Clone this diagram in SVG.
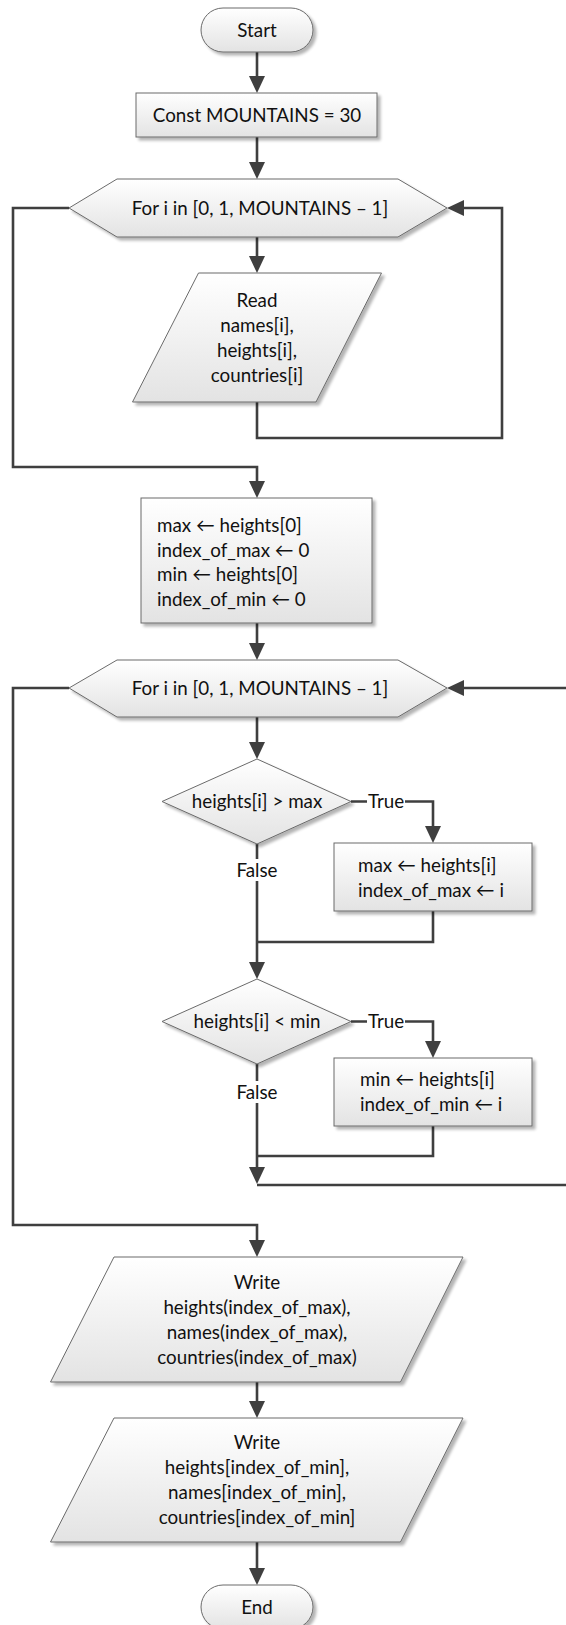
<svg xmlns="http://www.w3.org/2000/svg" width="566" height="1625" viewBox="0 0 566 1625">
<style>
.shape{fill:url(#g);stroke:#6a6a6a;stroke-width:1;filter:url(#sh)}
.t{font-family:Lato,"Liberation Sans",sans-serif;font-size:18.8px;fill:#111111;text-anchor:middle}
.l{text-anchor:start}
.c{fill:none;stroke:#3f3f3f;stroke-width:2.6}
.a{marker-end:url(#arr)}
.bg{fill:#ffffff}
</style>
<defs>
<linearGradient id="g" x1="0" y1="0" x2="0" y2="1">
<stop offset="0" stop-color="#ffffff"/>
<stop offset="1" stop-color="#e3e3e3"/>
</linearGradient>
<filter id="sh" x="-10%" y="-10%" width="130%" height="130%">
<feGaussianBlur in="SourceAlpha" stdDeviation="1.5"/>
<feOffset dx="2.5" dy="2.5" result="b"/>
<feComponentTransfer><feFuncA type="linear" slope="0.3"/></feComponentTransfer>
<feMerge><feMergeNode/><feMergeNode in="SourceGraphic"/></feMerge>
</filter>
<marker id="arr" viewBox="0 0 17 16" refX="9" refY="8" markerWidth="17" markerHeight="16" orient="auto" markerUnits="userSpaceOnUse">
<path d="M0,0 L17,8 L0,16 z" fill="#3f3f3f"/>
</marker>
</defs>

<g id="connectors">
<path class="c a" d="M257,52 V85"/>
<path class="c a" d="M257,137 V171"/>
<path class="c a" d="M257,237 V265"/>
<path class="c a" d="M69,208 H13 V467 H257 V490"/>
<path class="c a" d="M257,402 V438 H502 V208 H455"/>
<path class="c a" d="M257,623 V652"/>
<path class="c a" d="M69,688 H13 V1225 H257 V1249"/>
<path class="c a" d="M257,717 V751"/>
<path class="c a" d="M351,801.5 H433 V835"/>
<path class="c" d="M433,911 V942 H257"/>
<path class="c a" d="M257,844 V971"/>
<path class="c a" d="M351,1021.5 H433 V1050"/>
<path class="c" d="M433,1126 V1156 H257"/>
<path class="c a" d="M257,1064 V1176"/>
<path class="c a" d="M257,1185 H572 V688 H455"/>
<path class="c a" d="M257,1382 V1410"/>
<path class="c a" d="M257,1542 V1577"/>
</g>

<g id="start">
<rect class="shape" x="201" y="8" width="112" height="44" rx="22"/>
<text class="t" x="257" y="37">Start</text>
</g>

<g id="const">
<rect class="shape" x="136" y="93" width="241" height="44"/>
<text class="t" x="257" y="122">Const MOUNTAINS = 30</text>
</g>

<g id="loop1">
<polygon class="shape" points="69,208 117,179 398,179 447,208 398,237 117,237"/>
<text class="t" x="260" y="215">For i in [0, 1, MOUNTAINS – 1]</text>
</g>

<g id="read">
<polygon class="shape" points="198.5,273 381.5,273 316,402 132.5,402"/>
<text class="t" x="257" y="307">Read</text>
<text class="t" x="257" y="332">names[i],</text>
<text class="t" x="257" y="357">heights[i],</text>
<text class="t" x="257" y="382">countries[i]</text>
</g>

<g id="init">
<rect class="shape" x="141" y="498" width="231" height="125"/>
<text class="t l" x="157" y="532">max ← heights[0]</text>
<text class="t l" x="157" y="556.5">index_of_max ← 0</text>
<text class="t l" x="157" y="581">min ← heights[0]</text>
<text class="t l" x="157" y="605.5">index_of_min ← 0</text>
</g>

<g id="loop2">
<polygon class="shape" points="69,688 117,660 398,660 447,688 398,717 117,717"/>
<text class="t" x="260" y="695">For i in [0, 1, MOUNTAINS – 1]</text>
</g>

<g id="cond_max">
<polygon class="shape" points="257,759 351,801.5 257,844 162,801.5"/>
<text class="t" x="257" y="808">heights[i] &gt; max</text>
</g>

<g id="label_true1">
<rect class="bg" x="367" y="792" width="38" height="20"/>
<text class="t" x="386" y="808">True</text>
</g>
<g id="label_false1">
<rect class="bg" x="236" y="859" width="42" height="22"/>
<text class="t" x="257" y="877">False</text>
</g>

<g id="set_max">
<rect class="shape" x="334" y="843" width="198" height="68"/>
<text class="t l" x="358" y="872">max ← heights[i]</text>
<text class="t l" x="358" y="897">index_of_max ← i</text>
</g>

<g id="cond_min">
<polygon class="shape" points="257,979 351,1021.5 257,1064 162,1021.5"/>
<text class="t" x="257" y="1028">heights[i] &lt; min</text>
</g>

<g id="label_true2">
<rect class="bg" x="367" y="1012" width="38" height="20"/>
<text class="t" x="386" y="1028">True</text>
</g>
<g id="label_false2">
<rect class="bg" x="236" y="1081" width="42" height="22"/>
<text class="t" x="257" y="1099">False</text>
</g>

<g id="set_min">
<rect class="shape" x="334" y="1058" width="198" height="68"/>
<text class="t l" x="360" y="1086">min ← heights[i]</text>
<text class="t l" x="360" y="1111">index_of_min ← i</text>
</g>

<g id="write_max">
<polygon class="shape" points="114,1257 463,1257 400.5,1382 50.5,1382"/>
<text class="t" x="257" y="1289">Write</text>
<text class="t" x="257" y="1314">heights(index_of_max),</text>
<text class="t" x="257" y="1339">names(index_of_max),</text>
<text class="t" x="257" y="1364">countries(index_of_max)</text>
</g>

<g id="write_min">
<polygon class="shape" points="114,1418 463,1418 400.5,1542 50.5,1542"/>
<text class="t" x="257" y="1449">Write</text>
<text class="t" x="257" y="1474">heights[index_of_min],</text>
<text class="t" x="257" y="1499">names[index_of_min],</text>
<text class="t" x="257" y="1524">countries[index_of_min]</text>
</g>

<g id="end">
<rect class="shape" x="201" y="1585" width="112" height="44" rx="22"/>
<text class="t" x="257" y="1614">End</text>
</g>
</svg>
